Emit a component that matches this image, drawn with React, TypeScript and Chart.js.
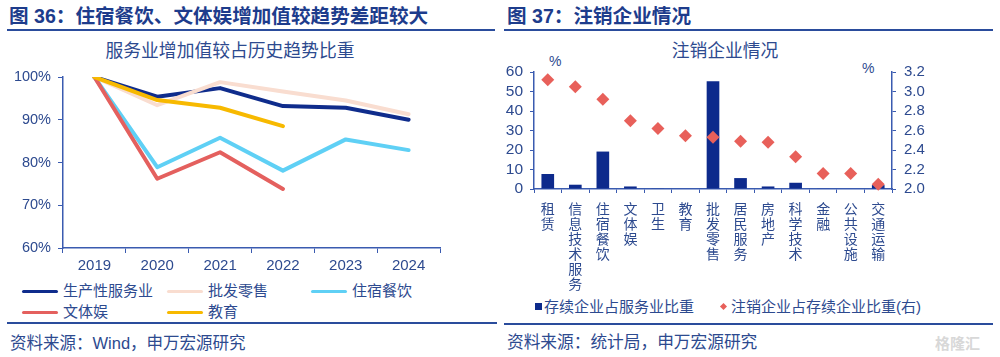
import React, { useEffect, useRef } from 'react';
import { Chart, registerables } from 'chart.js';
Chart.register(...registerables);

// ---------- Data: left chart ----------
const years = ['2019', '2020', '2021', '2022', '2023', '2024'];
const producerServices = [100, 95.4, 97.4, 93.2, 92.8, 90.0];
const wholesaleRetail = [100, 93.4, 98.8, 96.6, 94.5, 91.3];
const accommodationCatering = [100, 78.9, 85.8, 78.1, 85.4, 82.9];
const cultureSportsEnt = [100, 76.2, 82.4, 73.8];
const education = [100, 94.6, 92.8, 88.5];
const leftSeriesNames = ['生产性服务业', '批发零售', '住宿餐饮', '文体娱', '教育'];
const leftSeriesColors = ['#0f2c8c', '#f9ddd0', '#5fd0f5', '#e4605e', '#f7b900'];
const leftYTicks = [60, 70, 80, 90, 100];

// ---------- Data: right chart ----------
const industries = ['租赁', '信息技术服务', '住宿餐饮', '文体娱', '卫生', '教育', '批发零售', '居民服务', '房地产', '科学技术', '金融', '公共设施', '交通运输'];
const survivingShare = [7.7, 2.2, 19.2, 1.3, 0.2, 0, 55.2, 5.6, 1.3, 3.2, 0.3, 0, 2.0];
const cancelledRatio = [3.12, 3.05, 2.92, 2.70, 2.62, 2.545, 2.53, 2.49, 2.48, 2.33, 2.16, 2.16, 2.05];
const rightSeriesNames = ['存续企业占服务业比重', '注销企业占存续企业比重(右)'];
const rightLeftTicks = [0, 10, 20, 30, 40, 50, 60];
const rightRightTicks = [2.0, 2.2, 2.4, 2.6, 2.8, 3.0, 3.2];

const FONT = "'Liberation Sans', 'Noto Sans CJK SC', sans-serif";
const CJK = "'Noto Sans CJK SC', 'Liberation Sans', sans-serif";
const TEXT = '#2d4a8f';
const AXIS = '#3a5bb0';
const TITLE = '#1d3c8c';

function LeftChart() {
  const ref = useRef<HTMLCanvasElement>(null);
  useEffect(() => {
    const series = [producerServices, wholesaleRetail, accommodationCatering, cultureSportsEnt, education];
    const chart = new Chart(ref.current!, {
      type: 'line',
      data: {
        labels: years,
        datasets: series.map((d, i) => ({
          label: leftSeriesNames[i],
          data: d,
          borderColor: leftSeriesColors[i],
          backgroundColor: leftSeriesColors[i],
          borderWidth: 4,
          pointRadius: 0,
          tension: 0,
          fill: false,
          order: 5 - i,
          borderCapStyle: 'round',
          borderJoinStyle: 'round',
        })),
      },
      options: {
        animation: false,
        responsive: false,
        layout: { padding: { top: 17, right: 20, left: 0, bottom: 0 } },
        plugins: { legend: { display: false }, tooltip: { enabled: false }, title: { display: false } },
        scales: {
          x: {
            offset: true,
            grid: { display: true, offset: true, drawOnChartArea: false, drawTicks: true, tickLength: 5, color: AXIS },
            border: { display: true, color: AXIS, width: 1.5 },
            ticks: { color: TEXT, font: { family: FONT, size: 15 }, padding: 4, maxRotation: 0 },
            afterFit: (s: any) => { s.height = 32; },
          },
          y: {
            min: 60,
            max: 100,
            afterBuildTicks: (s: any) => { s.ticks = leftYTicks.map((v) => ({ value: v })); },
            grid: { display: true, drawOnChartArea: false, drawTicks: true, tickLength: 5, color: AXIS },
            border: { display: true, color: AXIS, width: 1.5 },
            ticks: { autoSkip: false, color: TEXT, font: { family: FONT, size: 14.5 }, padding: 7, callback: (v: any) => v + '%' },
            afterFit: (s: any) => { s.width = 63; },
          },
        },
      },
    } as any);
    return () => chart.destroy();
  }, []);
  return <canvas ref={ref} width={460} height={220} style={{ position: 'absolute', left: 0, top: 60, width: 460, height: 220 }} />;
}

function RightChart() {
  const ref = useRef<HTMLCanvasElement>(null);
  useEffect(() => {
    const chart = new Chart(ref.current!, {
      type: 'bar',
      data: {
        labels: industries.map((s) => s.split('')),
        datasets: [
          {
            type: 'bar',
            label: rightSeriesNames[0],
            data: survivingShare,
            backgroundColor: '#0d2a8c',
            yAxisID: 'y',
            barPercentage: 0.46,
            categoryPercentage: 1,
            order: 2,
          },
          {
            type: 'line',
            label: rightSeriesNames[1],
            data: cancelledRatio,
            yAxisID: 'y1',
            showLine: false,
            pointStyle: 'rectRot',
            pointRadius: 6.5,
            backgroundColor: '#e8605a',
            borderColor: '#e8605a',
            borderWidth: 0,
            order: 1,
            clip: false,
          },
        ],
      },
      options: {
        animation: false,
        responsive: false,
        layout: { padding: { top: 14, right: 0, left: 0, bottom: 0 } },
        plugins: { legend: { display: false }, tooltip: { enabled: false } },
        scales: {
          x: {
            offset: true,
            grid: { display: true, offset: true, drawOnChartArea: false, drawTicks: true, tickLength: 4, color: AXIS },
            border: { display: true, color: AXIS, width: 1.5 },
            ticks: {
              color: TEXT,
              font: { family: CJK, size: 14, lineHeight: 1.07 },
              padding: 8,
              maxRotation: 0,
              minRotation: 0,
              autoSkip: false,
            },
            afterFit: (s: any) => { s.height = 106; },
          },
          y: {
            position: 'left',
            min: 0,
            max: 60,
            afterBuildTicks: (s: any) => { s.ticks = rightLeftTicks.map((v) => ({ value: v })); },
            ticks: { autoSkip: false, color: TEXT, font: { family: FONT, size: 15.5 }, padding: 7 },
            grid: { display: true, drawOnChartArea: false, drawTicks: true, tickLength: 4, color: AXIS },
            border: { display: true, color: AXIS, width: 1.5 },
            afterFit: (s: any) => { s.width = 34; },
          },
          y1: {
            position: 'right',
            min: 2.0,
            max: 3.2,
            afterBuildTicks: (s: any) => { s.ticks = rightRightTicks.map((v) => ({ value: v })); },
            ticks: { autoSkip: false, color: TEXT, font: { family: FONT, size: 15 }, padding: 8, callback: (v: any) => Number(v).toFixed(1) },
            grid: { display: true, drawOnChartArea: false, drawTicks: true, tickLength: 4, color: AXIS },
            border: { display: true, color: AXIS, width: 1.5 },
            afterFit: (s: any) => { s.width = 68; },
          },
        },
      },
    } as any);
    return () => chart.destroy();
  }, []);
  return <canvas ref={ref} width={460} height={240} style={{ position: 'absolute', left: 500, top: 55, width: 460, height: 240 }} />;
}

const abs = (extra: React.CSSProperties): React.CSSProperties => ({ position: 'absolute', fontFamily: FONT, whiteSpace: 'nowrap', lineHeight: 1, ...extra });

export default function App() {
  const legendPos = [
    { x: 22, y: 291 },
    { x: 167, y: 291 },
    { x: 311, y: 291 },
    { x: 22, y: 312 },
    { x: 167, y: 312 },
  ];
  return (
    <div style={{ position: 'absolute', left: 0, top: 0, width: 1000, height: 357, background: '#fff', overflow: 'hidden' }}>
      {/* Left panel */}
      <div style={abs({ left: 9, top: 7, fontSize: 19.6, fontWeight: 'bold', color: TITLE })}>图 36：住宿餐饮、文体娱增加值较趋势差距较大</div>
      <div style={{ position: 'absolute', left: 7, top: 29, width: 488, height: 2, background: '#2a4c9c' }} />
      <div style={abs({ left: 0, width: 460, textAlign: 'center', top: 43, fontSize: 17.8, color: TEXT })}>服务业增加值较占历史趋势比重</div>
      <LeftChart />
      {leftSeriesNames.map((n, i) => (
        <div key={n}>
          <div style={{ position: 'absolute', left: legendPos[i].x, top: legendPos[i].y - 1.5, width: 36, height: 3.5, background: leftSeriesColors[i], borderRadius: 2 }} />
          <div style={abs({ left: legendPos[i].x + 41, top: legendPos[i].y - 8, fontSize: 15, color: TEXT })}>{n}</div>
        </div>
      ))}
      <div style={{ position: 'absolute', left: 7, top: 322, width: 490, height: 2, background: '#2a4c9c' }} />
      <div style={abs({ left: 10, top: 335, fontSize: 16.5, color: TEXT })}>资料来源：Wind，申万宏源研究</div>

      {/* Right panel */}
      <div style={abs({ left: 507, top: 7, fontSize: 19.6, fontWeight: 'bold', color: TITLE })}>图 37：注销企业情况</div>
      <div style={{ position: 'absolute', left: 504, top: 29, width: 489, height: 2, background: '#2a4c9c' }} />
      <div style={abs({ left: 500, width: 450, textAlign: 'center', top: 43, fontSize: 17.8, color: TEXT })}>注销企业情况</div>
      <div style={abs({ left: 549, top: 54, fontSize: 14, color: TEXT })}>%</div>
      <div style={abs({ left: 862, top: 61, fontSize: 14, color: TEXT })}>%</div>
      <RightChart />
      <div style={{ position: 'absolute', left: 535, top: 303, width: 7, height: 7, background: '#0d2a8c' }} />
      <div style={abs({ left: 544, top: 299, fontSize: 15, color: TEXT })}>{rightSeriesNames[0]}</div>
      <div style={{ position: 'absolute', left: 721, top: 304, width: 5, height: 5, background: '#e8605a', transform: 'rotate(45deg)' }} />
      <div style={abs({ left: 731, top: 299, fontSize: 15, color: TEXT })}>{rightSeriesNames[1]}</div>
      <div style={{ position: 'absolute', left: 504, top: 323, width: 489, height: 2, background: '#2a4c9c' }} />
      <div style={abs({ left: 507, top: 335, fontSize: 16.7, color: TEXT })}>资料来源：统计局，申万宏源研究</div>
      <div style={abs({ left: 935, top: 336, fontSize: 15, color: '#d8d8d8', fontWeight: 'bold' })}>格隆汇</div>
    </div>
  );
}
